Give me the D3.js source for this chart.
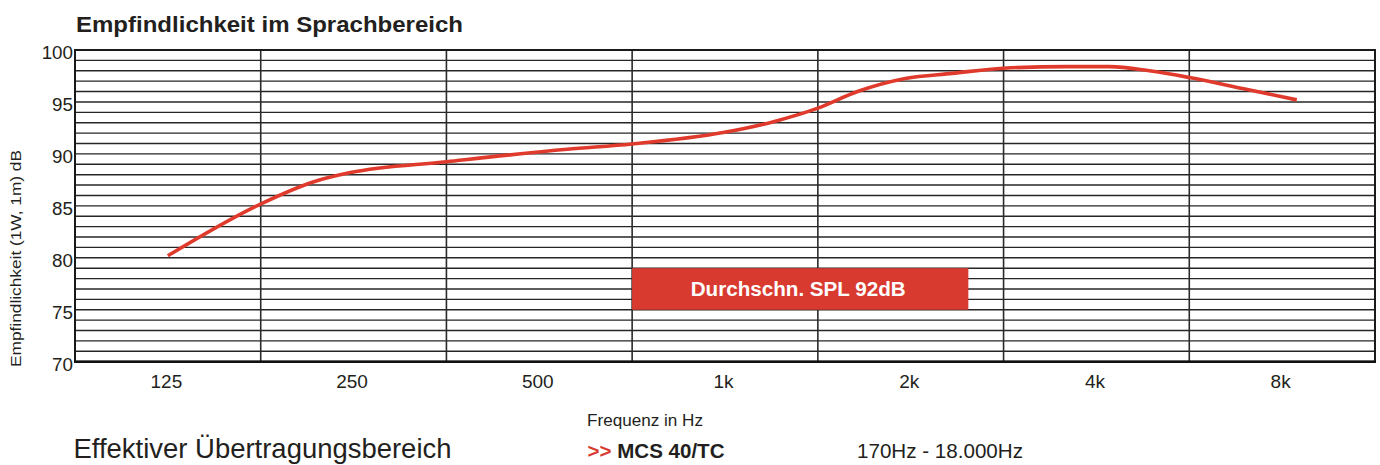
<!DOCTYPE html>
<html><head><meta charset="utf-8">
<script src="https://cdn.jsdelivr.net/npm/d3@7"></script>
<style>
body{margin:0;background:#fff}
svg{display:block}
text{font-family:"Liberation Sans",Arial,Helvetica,sans-serif;fill:#231f20}
</style>
</head><body>
<svg id="c" width="1380" height="465"></svg>
<script>
// ---- data ----
const bandLabels = ["125","250","500","1k","2k","4k","8k"];
const bandFreqs  = [125,250,500,1000,2000,4000,8000];
const yTicks     = [70,75,80,85,90,95,100];
const curveFreq  = [125,177,215,247,354,555,707,993,1199,1414,1640,1960,2336,2828,3573,4197,4873,5657,6897,8450];
const curveSpl   = [80.2,85.2,87.3,88.2,89.25,90.45,90.95,92.05,93.1,94.4,96.0,97.25,97.75,98.25,98.4,98.4,98.0,97.35,96.3,95.2];
const avgLabel   = "Durchschn. SPL 92dB";
const avgBox     = {f0:707, f1:2480, db0:75, db1:79};

const title   = "Empfindlichkeit im Sprachbereich";
const yTitle  = "Empfindlichkeit (1W, 1m) dB";
const xTitle  = "Frequenz in Hz";
const bottomL = "Effektiver Übertragungsbereich";
const model   = "MCS 40/TC";
const range   = "170Hz - 18.000Hz";

// ---- layout ----
const L = 75, R = 1375, T = 50, B = 361.7;
const svg = d3.select("#c");
const x = d3.scaleLog().base(2).domain([125/Math.SQRT2, 8000*Math.SQRT2]).range([L, R]);
const y = d3.scaleLinear().domain([70,100]).range([B, T]);

// horizontal grid (every 1 dB)
const g = svg.append("g");
g.selectAll("line.h").data(d3.range(71,100)).join("line")
  .attr("x1",L).attr("x2",R).attr("y1",d=>y(d)).attr("y2",d=>y(d))
  .attr("stroke","#262626").attr("stroke-width",1.4);

// vertical grid at band edges
g.selectAll("line.v").data(bandFreqs.slice(0,-1).map(f=>f*Math.SQRT2)).join("line")
  .attr("x1",d=>x(d)).attr("x2",d=>x(d)).attr("y1",T).attr("y2",B)
  .attr("stroke","#2b2b2b").attr("stroke-width",1.6);

// frame
svg.append("rect").attr("x",L).attr("y",T).attr("width",R-L).attr("height",B-T)
  .attr("fill","none").attr("stroke","#1a1a1a").attr("stroke-width",2);
svg.append("line").attr("x1",L-1).attr("x2",R+1).attr("y1",B).attr("y2",B)
  .attr("stroke","#111").attr("stroke-width",2.6);

// average box
svg.append("rect")
  .attr("x",x(avgBox.f0)).attr("y",y(avgBox.db1))
  .attr("width",x(avgBox.f1)-x(avgBox.f0)).attr("height",y(avgBox.db0)-y(avgBox.db1))
  .attr("fill","#d93a2f");
svg.append("text")
  .attr("x",(x(avgBox.f0)+x(avgBox.f1))/2 - 2).attr("y",y(avgBox.db0)-14)
  .attr("text-anchor","middle").attr("font-weight","bold").attr("font-size",19.5)
  .style("fill","#fff").attr("textLength",215).attr("lengthAdjust","spacingAndGlyphs")
  .text(avgLabel);

// curve
const pts = curveFreq.map((f,i)=>[f,curveSpl[i]]);
svg.append("path").datum(pts)
  .attr("d", d3.line().x(d=>x(d[0])).y(d=>y(d[1])).curve(d3.curveMonotoneX))
  .attr("fill","none").attr("stroke","#e03a2c").attr("stroke-width",3.6)
  .attr("stroke-linecap","butt");

// y axis labels
const ya = svg.append("g").attr("transform",`translate(${L},0)`)
  .call(d3.axisLeft(y).tickValues(yTicks).tickSize(0).tickPadding(2));
ya.select(".domain").remove();
ya.selectAll("text").attr("font-size",18.8).attr("dy","0.47em")
  .style("font-family",'"Liberation Sans",Arial,sans-serif').style("fill","#231f20");

// x axis labels
const xa = svg.append("g").attr("transform",`translate(0,${B})`)
  .call(d3.axisBottom(x).tickValues(bandFreqs).tickFormat((d,i)=>bandLabels[i]).tickSize(0).tickPadding(0));
xa.select(".domain").remove();
xa.selectAll("text").attr("font-size",19).attr("dy",null).attr("y",26.5).attr("dx",-2)
  .style("font-family",'"Liberation Sans",Arial,sans-serif').style("fill","#231f20");

// titles
svg.append("text").attr("x",76).attr("y",32).attr("font-weight","bold").attr("font-size",22)
  .attr("textLength",387).attr("lengthAdjust","spacingAndGlyphs").text(title);

svg.append("text").attr("transform","translate(21,258.5) rotate(-90)")
  .attr("text-anchor","middle").attr("font-size",14.5)
  .attr("textLength",217).attr("lengthAdjust","spacingAndGlyphs").text(yTitle);

svg.append("text").attr("x",587).attr("y",426).attr("font-size",16.5)
  .attr("textLength",116).attr("lengthAdjust","spacingAndGlyphs").text(xTitle);

svg.append("text").attr("x",73.5).attr("y",458.3).attr("font-size",27.5)
  .attr("textLength",378).attr("lengthAdjust","spacingAndGlyphs").text(bottomL);

const mt = svg.append("text").attr("x",587.5).attr("y",457.7).attr("font-weight","bold").attr("font-size",19.5)
  .attr("textLength",137).attr("lengthAdjust","spacingAndGlyphs");
mt.append("tspan").style("fill","#d93a2f").text(">> ");
mt.append("tspan").text(model);

svg.append("text").attr("x",857).attr("y",457.7).attr("font-size",19.5)
  .attr("textLength",166).attr("lengthAdjust","spacingAndGlyphs").text(range);
</script>
</body></html>
